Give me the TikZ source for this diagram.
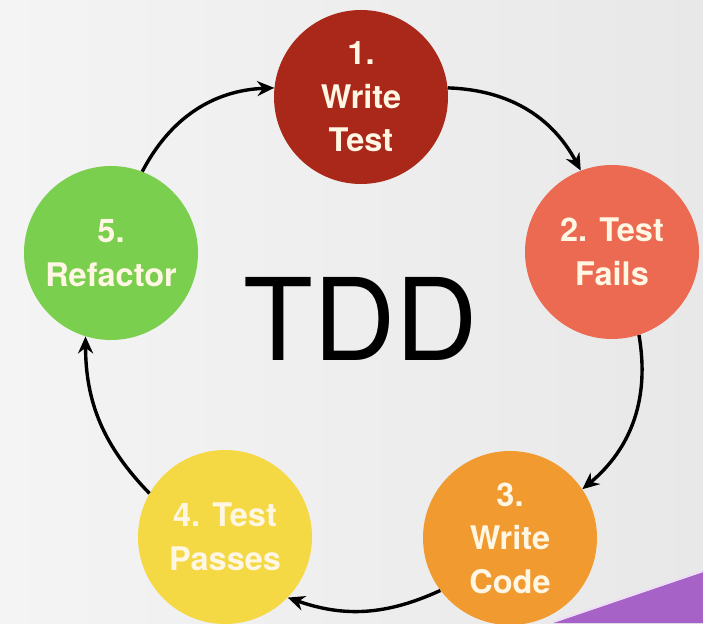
\documentclass[tikz,border=0pt]{standalone}
\usepackage{fontspec}
\setmainfont{TeX Gyre Heros}
\newfontfamily\stepfont{TeX Gyre Heros}
\usetikzlibrary{arrows.meta}
\definecolor{bgL}{HTML}{F4F4F4}
\definecolor{bgR}{HTML}{E8E8E8}
\definecolor{cOne}{HTML}{A9281A}
\definecolor{cTwo}{HTML}{EC6A51}
\definecolor{cThree}{HTML}{F09A30}
\definecolor{cFour}{HTML}{F4D945}
\definecolor{cFive}{HTML}{7BCF4E}
\definecolor{txt}{HTML}{FFF6E4}
\definecolor{purp}{HTML}{A762C8}
\definecolor{purpEdge}{HTML}{EEDDF6}
\begin{document}
\begin{tikzpicture}[x=1pt,y=1pt,
  stage/.style={circle, minimum size=174pt, inner sep=0pt, text=txt, align=center,
    font=\stepfont\bfseries\fontsize{32.5}{43.5}\selectfont},
  flow/.style={line width=3.4pt, -{Stealth[length=17pt,width=15pt]}}]
% background
\shade[left color=bgL, right color=bgR] (0,0) rectangle (703,623);
\useasboundingbox (0,0) rectangle (703,623);
% purple corner
\fill[purp] (553,0) -- (703,51) -- (703,0) -- cycle;
\draw[purpEdge, line width=2pt] (553,1) -- (703,52);
% stages
\node[stage, fill=cOne]   (c1) at (361,526) {1.\\Write\\Test};
\node[stage, fill=cTwo]   (c2) at (612,371) {2. Test\\Fails};
\node[stage, fill=cThree] (c3) at (510,85)  {3.\\Write\\Code};
\node[stage, fill=cFour]  (c4) at (225,86)  {4. Test\\Passes};
\node[stage, fill=cFive]  (c5) at (111,370) {5.\\Refactor};
% title
\node[anchor=base, inner sep=0pt, font=\fontsize{114}{114}\selectfont] (tdd) at (361,262) {TDD};
% connectors
\draw[flow] (c1.6)   to[bend left=30] (c2.111);
\draw[flow] (c2.-72) to[bend left=30] (c3.34);
\draw[flow] (c3.217) to[bend left=22] (c4.-44);
\draw[flow] (c4.150) to[bend left=22] (c5.253);
\draw[flow] (c5.69)  to[bend left=30] (c1.174);
\end{tikzpicture}
\end{document}
